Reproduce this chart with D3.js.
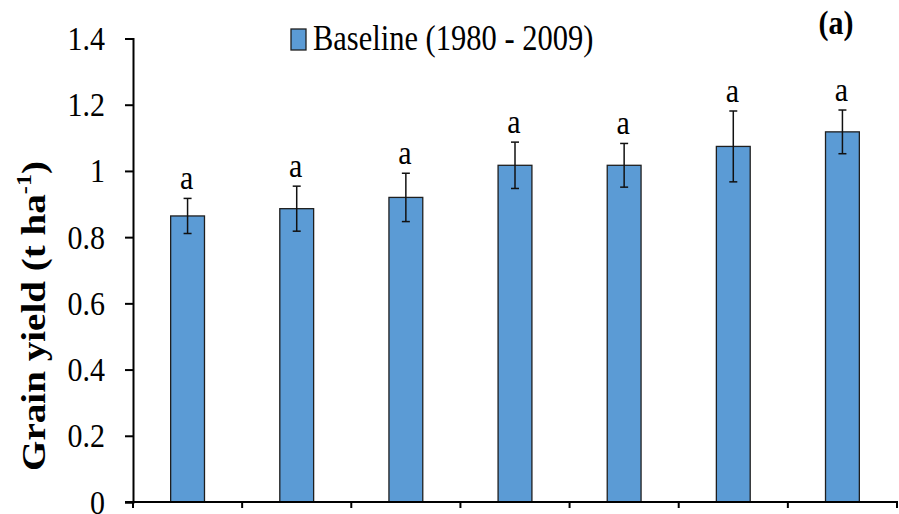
<!DOCTYPE html>
<html>
<head>
<meta charset="utf-8">
<script src="https://cdn.jsdelivr.net/npm/d3@7/dist/d3.min.js"></script>
</head>
<body style="margin:0;background:#fff">
<script>
// Grain yield per treatment, baseline period 1980 - 2009
const categories = ["T1", "T2", "T3", "T4", "T5", "T6", "T7"];
const yieldMean  = [0.864, 0.886, 0.920, 1.017, 1.017, 1.074, 1.118];
const yieldErr   = [0.053, 0.068, 0.073, 0.070, 0.066, 0.107, 0.066];
const groupLetters = ["a", "a", "a", "a", "a", "a", "a"];
const yTicks = [0, 0.2, 0.4, 0.6, 0.8, 1, 1.2, 1.4];
const legendLabel = "Baseline (1980 - 2009)";
const panelLabel = "(a)";

const W = 899, H = 514;
const plotL = 133, plotR = 897, plotT = 38.5, plotB = 502;
const stretch = "scale(1,1.15)";
const serif = '"Liberation Serif", "Times New Roman", Tinos, serif';

const svg = d3.select("body").append("svg")
  .attr("width", W).attr("height", H)
  .style("display", "block");

const x = d3.scaleBand().domain(categories).range([plotL, plotR]).padding(0);
const y = d3.scaleLinear().domain([0, 1.4]).range([plotB, plotT]);
const barW = x.bandwidth() * 0.31;

// bars
svg.append("g").selectAll("rect")
  .data(categories)
  .join("rect")
  .attr("x", (c) => x(c) + (x.bandwidth() - barW) / 2)
  .attr("width", barW)
  .attr("y", (c, i) => y(yieldMean[i]))
  .attr("height", (c, i) => y(0) - y(yieldMean[i]))
  .attr("fill", "#5b9bd5")
  .attr("stroke", "#1f1f1f")
  .attr("stroke-width", 1.3);

// error bars
const err = svg.append("g").attr("stroke", "#111").attr("stroke-width", 1.5);
categories.forEach((c, i) => {
  const cx = x(c) + x.bandwidth() / 2;
  const hi = y(yieldMean[i] + yieldErr[i]);
  const lo = y(yieldMean[i] - yieldErr[i]);
  err.append("line").attr("x1", cx).attr("x2", cx).attr("y1", hi).attr("y2", lo);
  err.append("line").attr("x1", cx - 4).attr("x2", cx + 4).attr("y1", hi).attr("y2", hi);
  err.append("line").attr("x1", cx - 4).attr("x2", cx + 4).attr("y1", lo).attr("y2", lo);
});

// significance letters above error bars
svg.append("g").selectAll("text")
  .data(categories)
  .join("text")
  .attr("transform", (c, i) => `translate(${x(c) + x.bandwidth() / 2 - 1},${y(yieldMean[i] + yieldErr[i]) - 9}) ${stretch}`)
  .attr("text-anchor", "middle")
  .style("font-family", serif)
  .style("font-size", "30px")
  .attr("fill", "#000")
  .text((c, i) => groupLetters[i]);

// y axis
const yAxis = svg.append("g")
  .attr("transform", `translate(${plotL},0)`)
  .call(d3.axisLeft(y).tickValues(yTicks).tickSize(8).tickPadding(20).tickFormat(d3.format("~g")));
yAxis.select(".domain").attr("stroke", "#000").attr("stroke-width", 2);
yAxis.selectAll(".tick line").attr("stroke", "#000").attr("stroke-width", 2);
yAxis.selectAll(".tick text")
  .style("font-family", serif)
  .style("font-size", "30px")
  .attr("fill", "#000")
  .attr("transform", stretch);

// x axis with ticks at category boundaries
const xAxis = svg.append("g").attr("transform", `translate(0,${plotB})`);
xAxis.append("line").attr("x1", plotL - 8).attr("x2", plotR + 1)
  .attr("stroke", "#000").attr("stroke-width", 2);
const bounds = categories.map((c) => x(c)).concat([x(categories[categories.length - 1]) + x.bandwidth()]);
xAxis.selectAll("line.tk").data(bounds).join("line")
  .attr("class", "tk")
  .attr("x1", (d) => d).attr("x2", (d) => d)
  .attr("y1", 0).attr("y2", 6)
  .attr("stroke", "#000").attr("stroke-width", 2);

// y axis title
const yt = svg.append("text")
  .attr("transform", `translate(45,316) ${stretch} rotate(-90)`)
  .attr("text-anchor", "middle")
  .style("font-family", serif)
  .style("font-size", "34px")
  .style("font-weight", "bold")
  .attr("fill", "#000");
yt.append("tspan").text("Grain yield (t ha");
yt.append("tspan").style("font-size", "21px").attr("dy", -14).text("-1");
yt.append("tspan").attr("dy", 14).text(")");

// legend
const lg = svg.append("g");
lg.append("rect").attr("x", 291).attr("y", 29).attr("width", 15).attr("height", 21)
  .attr("fill", "#5b9bd5").attr("stroke", "#1f1f1f").attr("stroke-width", 1.3);
lg.append("text")
  .attr("transform", `translate(313,50) ${stretch}`)
  .style("font-family", serif)
  .style("font-size", "30.5px")
  .attr("fill", "#000")
  .text(legendLabel);

// panel label
svg.append("text")
  .attr("transform", `translate(836,34) ${stretch}`)
  .attr("text-anchor", "middle")
  .style("font-family", serif)
  .style("font-size", "30px")
  .style("font-weight", "bold")
  .attr("fill", "#000")
  .text(panelLabel);
</script>
</body>
</html>
